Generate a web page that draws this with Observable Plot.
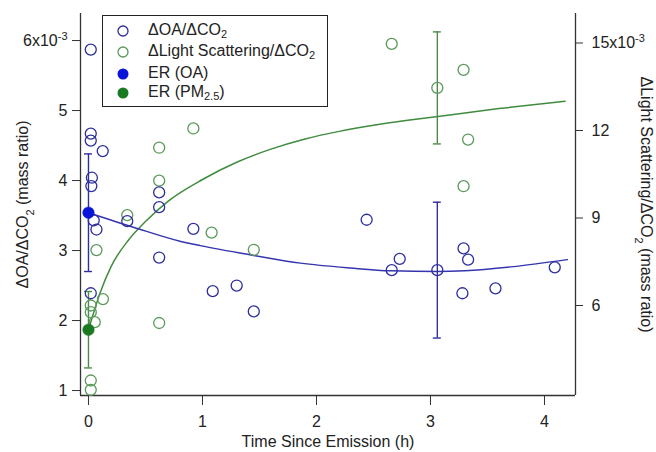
<!DOCTYPE html>
<html>
<head>
<meta charset="utf-8">
<script src="https://cdn.jsdelivr.net/npm/d3@7"></script>
<script src="https://cdn.jsdelivr.net/npm/@observablehq/plot@0.6"></script>
<style>
  body { margin: 0; background: #fff; font-family: "Liberation Sans", Arial, sans-serif; }
  #wrap { position: relative; width: 656px; height: 452px; }
  #legend { position: absolute; left: 102px; top: 15px; width: 224px; height: 90px; border: 1.3px solid #222; background: #fff; font-size: 16px; color: #222; }
  .row { position: absolute; left: 0; height: 20px; line-height: 20px; white-space: nowrap; }
  .row svg { position: absolute; left: 13px; top: 4px; }
  .row span { position: absolute; left: 45px; top: 0; }
  sub { font-size: 11px; vertical-align: -3px; line-height: 0; }
</style>
</head>
<body>
<div id="wrap">
  <div id="chart"></div>
  <div id="legend">
    <div class="row" style="top:4px"><svg width="14" height="14"><circle cx="7" cy="7" r="5" fill="none" stroke="#2e2e9e" stroke-width="1.3"/></svg><span>ΔOA/ΔCO<sub>2</sub></span></div>
    <div class="row" style="top:25px"><svg width="14" height="14"><circle cx="7" cy="7" r="5" fill="none" stroke="#5a9a5a" stroke-width="1.3"/></svg><span>ΔLight Scattering/ΔCO<sub>2</sub></span></div>
    <div class="row" style="top:47px"><svg width="14" height="14"><circle cx="7" cy="7" r="5.5" fill="#0a14d8"/></svg><span>ER (OA)</span></div>
    <div class="row" style="top:66px"><svg width="14" height="14"><circle cx="7" cy="7" r="5.5" fill="#1a7a22"/></svg><span>ER (PM<sub>2.5</sub>)</span></div>
  </div>
</div>
<script>
// ---- data ----
const oaTime  = [0.02, 0.02, 0.02, 0.125, 0.03, 0.025, 0.046, 0.07, 0.02, 0.34, 0.62, 0.62, 0.62, 0.92, 1.09, 1.30, 1.45, 2.44, 2.66, 2.73, 3.06, 3.29, 3.33, 3.28, 3.57, 4.09];
const oaRatio = [5.87, 4.67, 4.57, 4.42, 4.04, 3.92, 3.43, 3.30, 2.39, 3.42, 3.83, 3.62, 2.90, 3.31, 2.42, 2.50, 2.13, 3.44, 2.72, 2.88, 2.72, 3.03, 2.87, 2.39, 2.46, 2.76];

const lsTime  = [0.02, 0.02, 0.055, 0.127, 0.07, 0.02, 0.02, 0.34, 0.62, 0.62, 0.62, 0.92, 1.08, 1.45, 2.66, 3.06, 3.29, 3.33, 3.29];
const lsRatio = [6.00, 5.77, 5.43, 6.22, 7.90, 3.43, 3.11, 9.10, 11.41, 10.28, 5.40, 12.07, 8.50, 7.91, 14.97, 13.46, 14.08, 11.69, 10.09];

const erTime = [0];
const erOA = [3.54];
const erOAErr = [0.84];
const erPM = [5.17];
const erPMErr = [1.31];

const meanTime = [3.06];
const meanOA = [2.72];
const meanOAErr = [0.97];
const meanLS = [13.46];
const meanLSErr = [1.92];

const fitOATime = [0, 0.4, 0.81, 0.98, 1.45, 1.86, 2.3, 2.65, 3.06, 3.3, 3.73, 4.2];
const fitOA     = [3.54, 3.33, 3.13, 3.07, 2.93, 2.82, 2.75, 2.71, 2.70, 2.71, 2.77, 2.87];

const fitLSTime = [0, 0.05, 0.1, 0.2, 0.35, 0.5, 0.7, 1.0, 1.3, 1.6, 1.9, 2.2, 2.5, 2.8, 3.1, 3.6, 4.18];
const fitLS     = [5.17, 5.81, 6.41, 7.35, 8.24, 8.88, 9.58, 10.32, 10.91, 11.36, 11.71, 11.97, 12.18, 12.35, 12.50, 12.75, 13.00];

const xTicks = [0, 1, 2, 3, 4];
const leftTicks = [1, 2, 3, 4, 5, 6];
const rightTicks = [6, 9, 12, 15];

// ---- right axis (light scattering) mapped onto the left axis ----
const toLeft = r => 0.4167 * r - 0.2857;
const fromLeft = l => (l + 0.2857) / 0.4167;

const xDomain = [-0.07, 4.272];
const yDomain = [0.929, 6.386];

const blue = "#2e2e9e", blueLine = "#3535b0", blueER = "#0a14d8";
const green = "#5a9a5a", greenLine = "#3f8c3f", greenER = "#1a7a22", greenBar = "#4a8a4a";

const oa = oaTime.map((t, i) => ({t, v: oaRatio[i]}));
const ls = lsTime.map((t, i) => ({t, v: toLeft(lsRatio[i])}));
const fOA = fitOATime.map((t, i) => ({t, v: fitOA[i]}));
const fLS = fitLSTime.map((t, i) => ({t, v: toLeft(fitLS[i])}));
const bars = [
  ...erTime.map((t, i) => ({t, lo: erOA[i] - erOAErr[i], hi: erOA[i] + erOAErr[i], c: blue})),
  ...erTime.map((t, i) => ({t, lo: toLeft(erPM[i] - erPMErr[i]), hi: toLeft(erPM[i] + erPMErr[i]), c: greenBar})),
  ...meanTime.map((t, i) => ({t, lo: meanOA[i] - meanOAErr[i], hi: meanOA[i] + meanOAErr[i], c: blue})),
  ...meanTime.map((t, i) => ({t, lo: toLeft(meanLS[i] - meanLSErr[i]), hi: toLeft(meanLS[i] + meanLSErr[i]), c: greenBar}))
];
const erPts = [
  ...erTime.map((t, i) => ({t, v: erOA[i], c: blueER})),
  ...erTime.map((t, i) => ({t, v: toLeft(erPM[i]), c: greenER}))
];

const axisColor = "#333";

const plot = Plot.plot({
  width: 656,
  height: 452,
  marginLeft: 80,
  marginRight: 81,
  marginTop: 13,
  marginBottom: 57,
  style: {fontFamily: "Liberation Sans, Arial, sans-serif", fontSize: "16px", color: "#222", background: "#fff"},
  x: {domain: xDomain},
  y: {domain: yDomain},
  marks: [
    Plot.ruleX([xDomain[0], xDomain[1]], {stroke: axisColor, strokeWidth: 1.3}),
    Plot.ruleY([yDomain[0]], {stroke: axisColor, strokeWidth: 1.3}),
    Plot.axisX({ticks: xTicks, tickSize: 10, tickPadding: 10, label: null, stroke: axisColor, tickFormat: d => String(d)}),
    Plot.axisY({ticks: leftTicks, tickSize: 8, tickPadding: 5, label: null, stroke: axisColor,
      tickFormat: d => d === 6 ? "6x10^-3" : String(d)}),
    Plot.axisY({anchor: "right", ticks: rightTicks.map(toLeft), tickSize: 7, tickPadding: 9, label: null, stroke: axisColor,
      tickFormat: d => { const r = Math.round(fromLeft(d)); return r === 15 ? "15x10^-3" : String(r); }}),
    Plot.text(["Time Since Emission (h)"], {frameAnchor: "bottom", dy: 46, lineAnchor: "middle", textAnchor: "middle", fontSize: 16, fill: "#222"}),
    Plot.text(["ΔOA/ΔCO2 (mass ratio)"], {frameAnchor: "left", dx: -58, rotate: -90, textAnchor: "middle", lineAnchor: "middle", fontSize: 16, fill: "#222"}),
    Plot.text(["ΔLight Scattering/ΔCO2 (mass ratio)"], {frameAnchor: "right", dx: 71, rotate: 90, textAnchor: "middle", lineAnchor: "middle", fontSize: 16, fill: "#222"}),
    Plot.line(fLS, {x: "t", y: "v", stroke: greenLine, strokeWidth: 1.5, curve: "monotone-x"}),
    Plot.line(fOA, {x: "t", y: "v", stroke: blueLine, strokeWidth: 1.5, curve: "monotone-x"}),
    Plot.ruleX(bars, {x: "t", y1: "lo", y2: "hi", stroke: "c", strokeWidth: 1.4}),
    Plot.ruleY(bars, {y: "lo", x1: "t", x2: "t", insetLeft: -4, insetRight: -4, stroke: "c", strokeWidth: 1.4}),
    Plot.ruleY(bars, {y: "hi", x1: "t", x2: "t", insetLeft: -4, insetRight: -4, stroke: "c", strokeWidth: 1.4}),
    Plot.dot(ls, {x: "t", y: "v", r: 5.5, stroke: green, strokeWidth: 1.3, fill: "none"}),
    Plot.dot(oa, {x: "t", y: "v", r: 5.5, stroke: blue, strokeWidth: 1.3, fill: "none"}),
    Plot.dot(erPts, {x: "t", y: "v", r: 5.8, fill: "c", stroke: "c", strokeWidth: 0.5})
  ]
});

// superscripts / subscripts as real tspans
d3.select(plot).selectAll("text").each(function () {
  const t = this.textContent;
  if (t.includes("^-3")) {
    const base = t.replace("^-3", "");
    this.textContent = base;
    d3.select(this).append("tspan").attr("baseline-shift", "super").attr("font-size", 11).text("-3");
  } else if (t.includes("CO2")) {
    const [a, b] = t.split("CO2");
    this.textContent = a + "CO";
    d3.select(this).append("tspan").attr("baseline-shift", "sub").attr("font-size", 11).text("2");
    d3.select(this).append("tspan").text(b);
  }
});

document.getElementById("chart").append(plot);
</script>
</body>
</html>
